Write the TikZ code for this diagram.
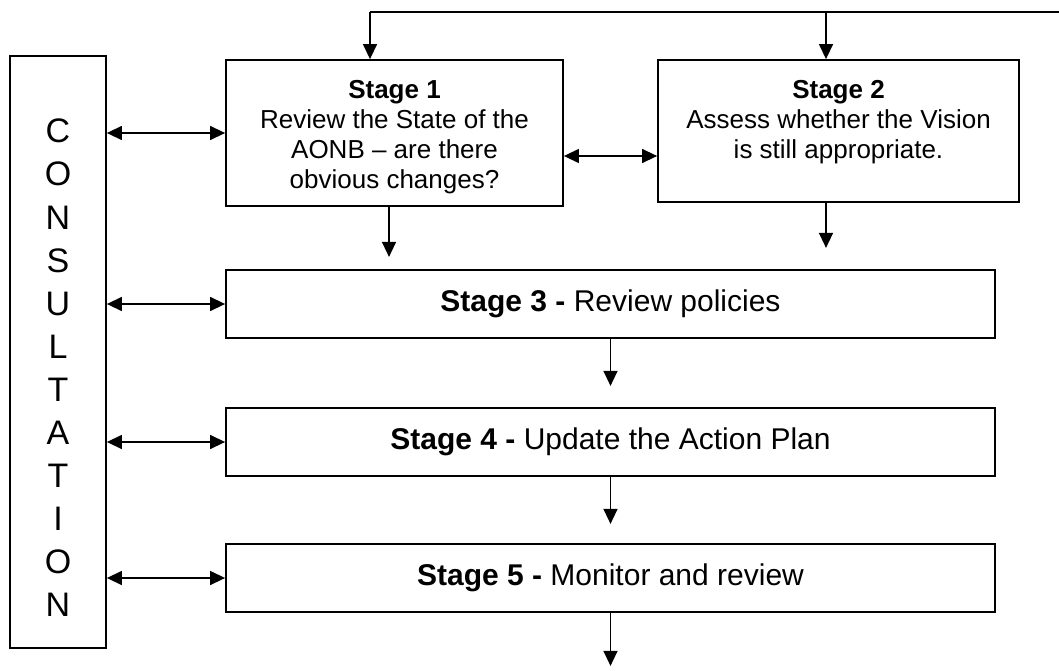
\documentclass[tikz,border=0pt]{standalone}
\usepackage{fontspec}
\setmainfont{Liberation Sans}
\usetikzlibrary{arrows.meta}
\begin{document}
\begin{tikzpicture}[x=1pt,y=-1pt,
  box/.style={draw, line width=1.8pt, inner sep=0pt},
  conn/.style={line width=1.4pt, -{Triangle[length=15pt,width=14pt]}},
  both/.style={line width=1.4pt, {Triangle[length=15pt,width=14pt]}-{Triangle[length=15pt,width=14pt]}},
  txt/.style={font=\fontsize{26}{30}\selectfont, align=center, inner sep=0pt},
  big/.style={font=\fontsize{30}{34}\selectfont, inner sep=0pt}]
\useasboundingbox (0,0) rectangle (1059,671);
% boxes
\node[box, minimum width=96pt, minimum height=592pt] (c) at (58,352) {};
\node[txt, font=\fontsize{34}{43.1}\selectfont] (ct) at (58,368) {C\\O\\N\\S\\U\\L\\T\\A\\T\\I\\O\\N};
\node[box, minimum width=337pt, minimum height=146pt] (s1) at (394.5,133) {};
\node[box, minimum width=361pt, minimum height=142pt] (s2) at (838.5,131) {};
\node[box, minimum width=769pt, minimum height=68pt] (s3) at (610.5,304) {};
\node[box, minimum width=769pt, minimum height=68pt] (s4) at (610.5,442) {};
\node[box, minimum width=769pt, minimum height=68pt] (s5) at (610.5,578) {};
% texts
\node[txt, anchor=north] (t1) at ([yshift=-21pt]s1.north) {\textbf{Stage 1}\\Review the State of the\\AONB -- are there\\obvious changes?};
\node[txt, anchor=north] (t2) at ([yshift=-21pt]s2.north) {\textbf{Stage 2}\\Assess whether the Vision\\is still appropriate.};
\node[big] (t3) at (s3) {\textbf{Stage 3 -} Review policies};
\node[big] (t4) at (s4) {\textbf{Stage 4 -} Update the Action Plan};
\node[big] (t5) at (s5) {\textbf{Stage 5 -} Monitor and review};
% top feedback line
\coordinate (a1) at (370,12);
\coordinate (a2) at (826,12);
\coordinate (ar) at (1059,12);
\draw[line width=1.4pt] (ar) -- (a1);
\draw[conn] (a1) -- (a1 |- s1.north);
\draw[conn] (a2) -- (a2 |- s2.north);
% horizontal double arrows
\draw[both] ([yshift=-23pt]s1.east) -- ([yshift=-23pt]s1.east -| s2.west);
\draw[both] (c.east |- s1.west) -- (s1.west);
\draw[both] (c.east |- s3.west) -- (s3.west);
\draw[both] (c.east |- s4.west) -- (s4.west);
\draw[both] (c.east |- s5.west) -- (s5.west);
% down arrows
\draw[conn] ([xshift=-5.5pt]s1.south) -- ++(0,50);
\draw[conn] ([xshift=-12.5pt]s2.south) -- ++(0,45);
\draw[conn] (s3.south) -- ++(0,47);
\draw[conn] (s4.south) -- ++(0,47);
\draw[conn] (s5.south) -- ++(0,53);
\end{tikzpicture}
\end{document}
